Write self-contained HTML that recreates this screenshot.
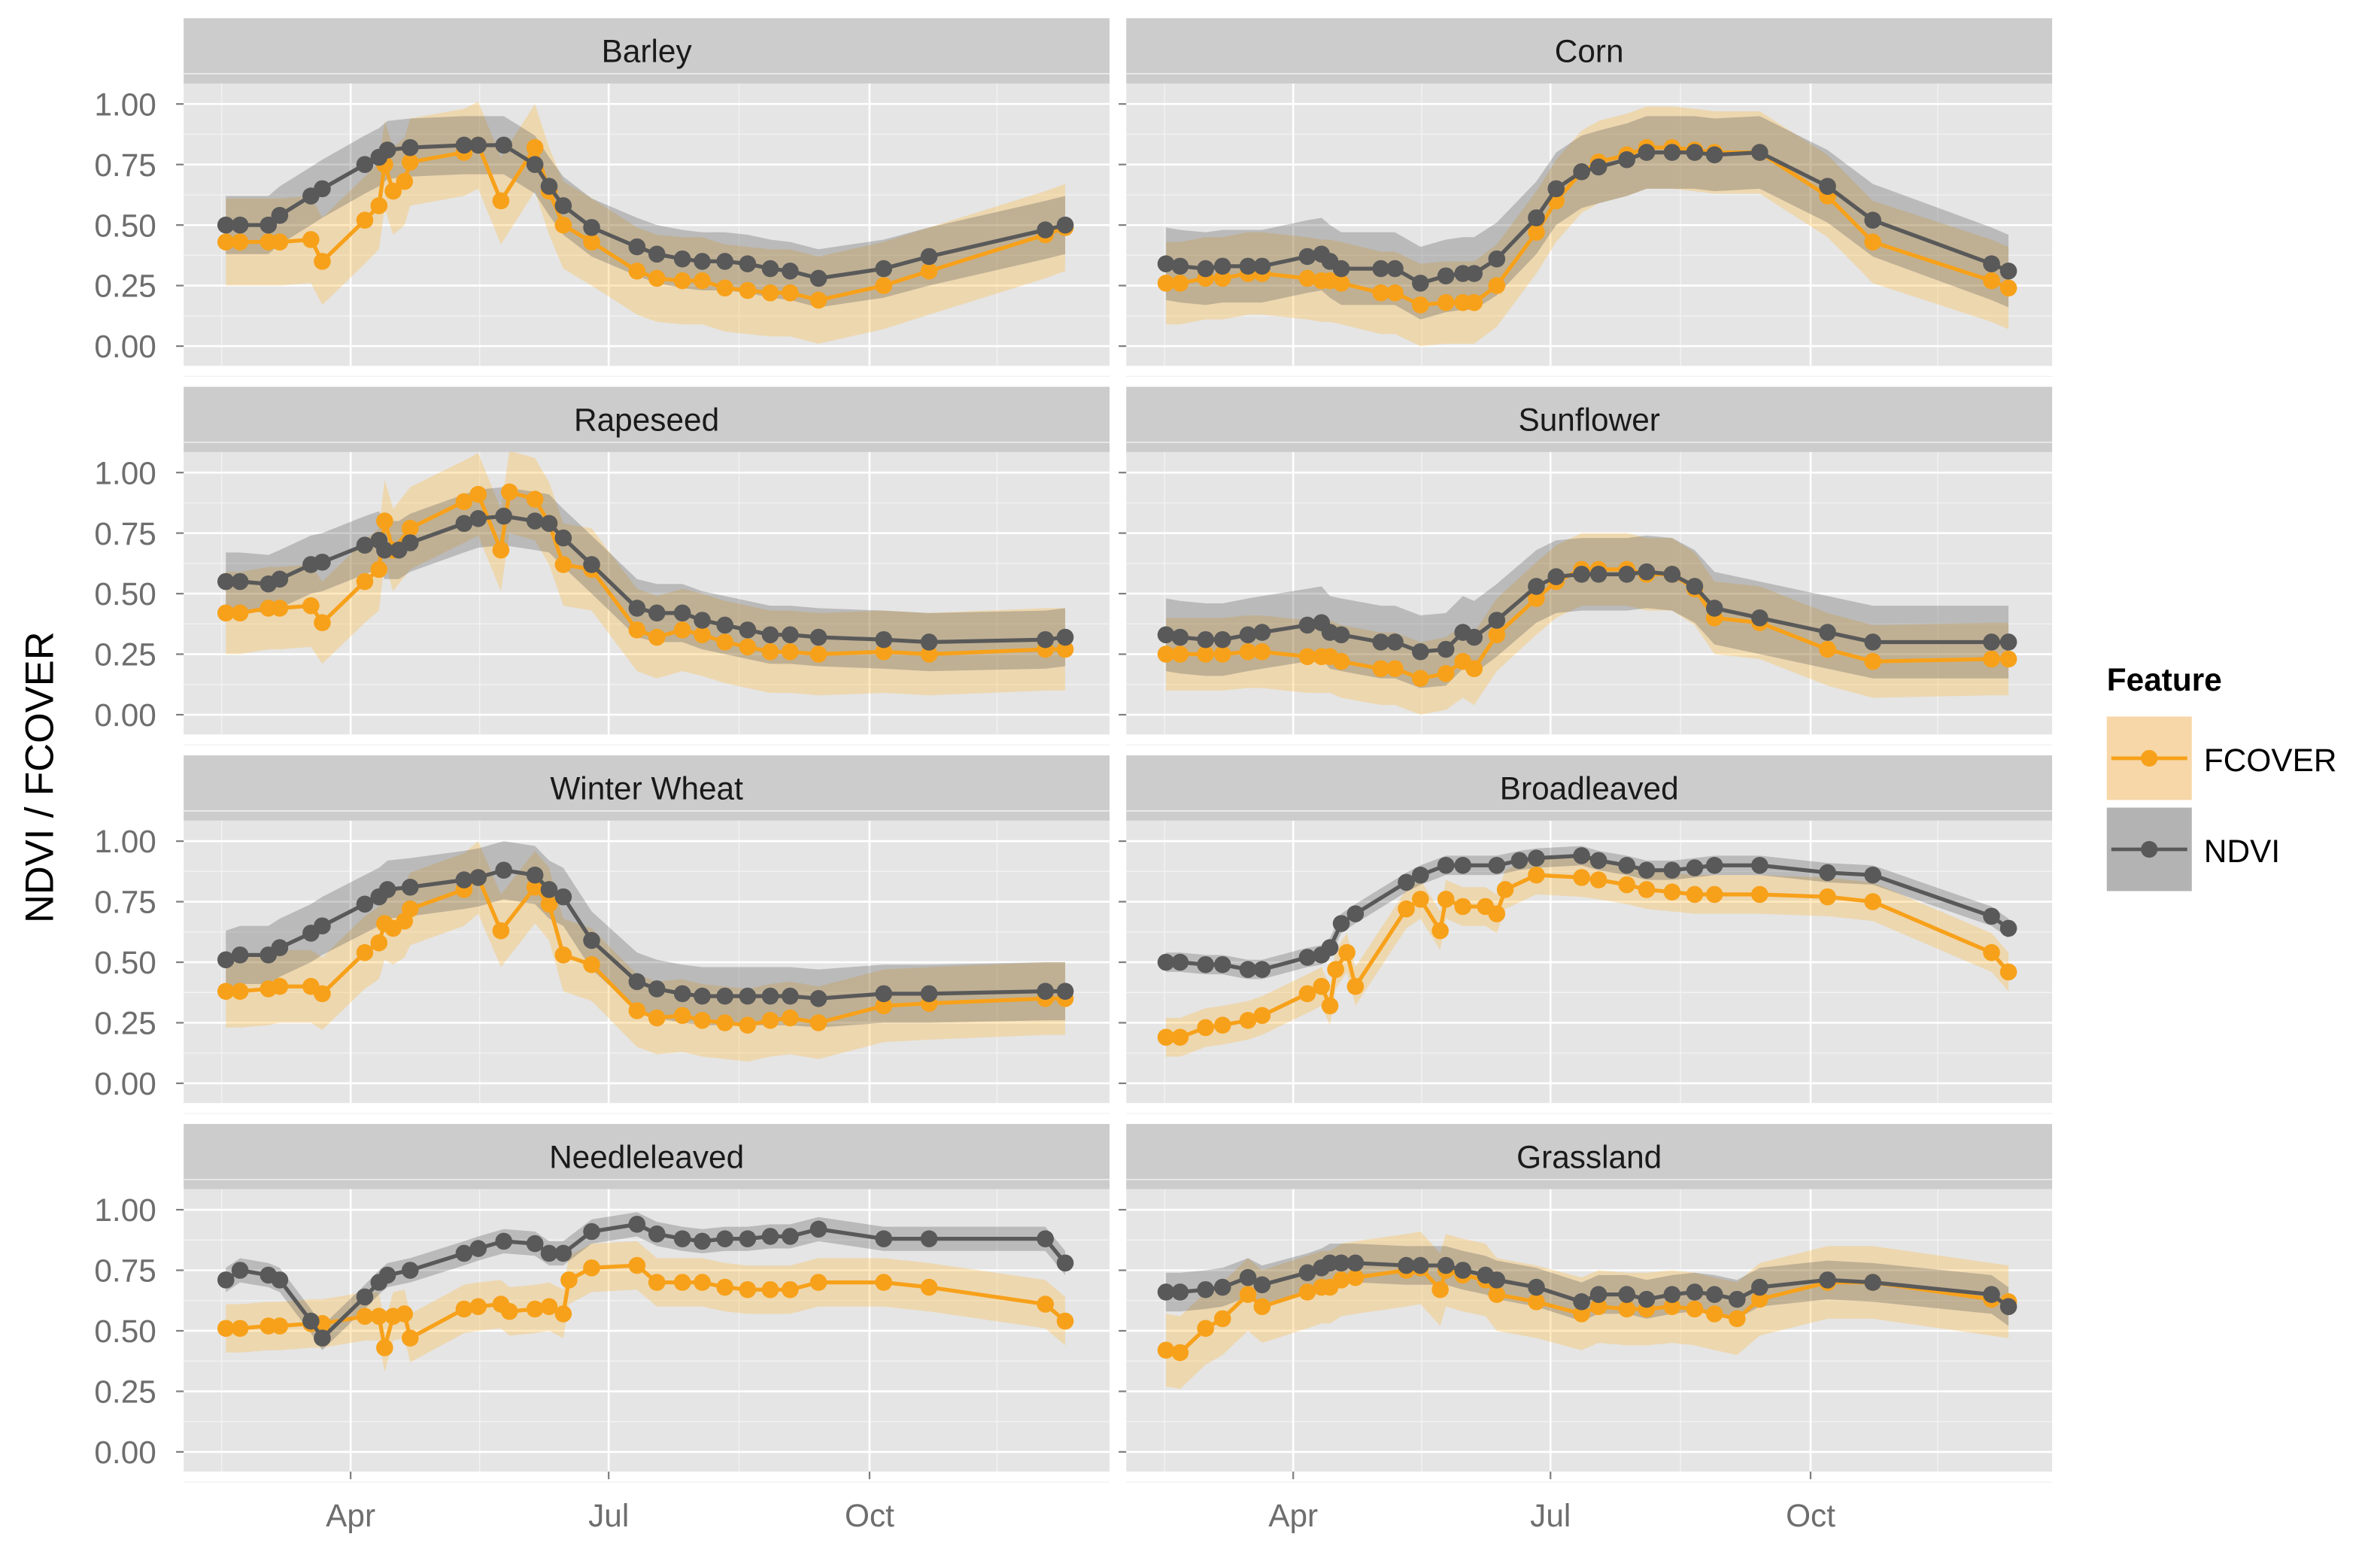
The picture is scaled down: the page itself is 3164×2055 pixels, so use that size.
<!DOCTYPE html>
<html><head><meta charset="utf-8">
<style>
html,body{margin:0;padding:0;background:#fff;}
svg{display:block;font-family:"Liberation Sans",Arial,sans-serif;}
</style></head>
<body>
<svg id="chart" width="3164" height="2055" viewBox="0 0 1568 1018.4" xmlns="http://www.w3.org/2000/svg">
<rect x="0" y="0" width="1568" height="1018.4" fill="#fff"/>
<g id="panels"></g>
<text x="0" y="0" transform="translate(35,512) rotate(-90)" text-anchor="middle" font-size="26" fill="#000">NDVI / FCOVER</text>
<g>
<text x="1388" y="455" font-size="21" font-weight="bold" fill="#000">Feature</text>
<g>
<rect x="1388" y="472" width="56" height="55" fill="#f7d7a8"/>
<line x1="1391" y1="499.5" x2="1441" y2="499.5" stroke="#f7a11a" stroke-width="2.4"/>
<circle cx="1416" cy="499.5" r="5.5" fill="#f7a11a"/>
<text x="1452" y="508" font-size="21" fill="#000">FCOVER</text>
</g>
<g>
<rect x="1388" y="532" width="56" height="55" fill="#b3b3b3"/>
<line x1="1391" y1="559.5" x2="1441" y2="559.5" stroke="#595959" stroke-width="2.4"/>
<circle cx="1416" cy="559.5" r="5.5" fill="#595959"/>
<text x="1452" y="568" font-size="21" fill="#000">NDVI</text>
</g>
</g>
</svg>
<script>
// ---- data (day of year, value) ----
const yTicks = [0, 0.25, 0.5, 0.75, 1.0];
const yTickLabels = ["0.00", "0.25", "0.50", "0.75", "1.00"];
const monthDays = [91, 182, 274];
const monthLabels = ["Apr", "Jul", "Oct"];
const panelTitles = ["Barley","Corn","Rapeseed","Sunflower","Winter Wheat","Broadleaved","Needleleaved","Grassland"];

const barley_ndvi_day = [47,52,62,66,77,81,96,101,104,112,131,136,145,156,161,166,176,192,199,208,215,223,231,239,246,256,279,295,336,343];
const barley_ndvi = [.50,.50,.50,.54,.62,.65,.75,.78,.81,.82,.83,.83,.83,.75,.66,.58,.49,.41,.38,.36,.35,.35,.34,.32,.31,.28,.32,.37,.48,.50];
const barley_fcover_day = [47,52,62,66,77,81,96,101,103,106,110,112,131,136,144,156,161,166,176,192,199,208,215,223,231,239,246,256,279,295,336,343];
const barley_fcover = [.43,.43,.43,.43,.44,.35,.52,.58,.75,.64,.68,.76,.80,.83,.60,.82,.64,.50,.43,.31,.28,.27,.27,.24,.23,.22,.22,.19,.25,.31,.46,.49];

const corn_ndvi_day = [46,51,60,66,75,80,96,101,104,108,122,127,136,145,151,155,163,177,184,193,199,209,216,225,233,240,256,280,296,338,344];
const corn_ndvi = [.34,.33,.32,.33,.33,.33,.37,.38,.35,.32,.32,.32,.26,.29,.30,.30,.36,.53,.65,.72,.74,.77,.80,.80,.80,.79,.80,.66,.52,.34,.31];
const corn_fcover_day = [46,51,60,66,75,80,96,101,104,108,122,127,136,145,151,155,163,177,184,193,199,209,216,225,233,240,256,280,296,338,344];
const corn_fcover = [.26,.26,.28,.28,.30,.30,.28,.27,.27,.26,.22,.22,.17,.18,.18,.18,.25,.47,.60,.72,.76,.79,.82,.82,.81,.80,.80,.62,.43,.27,.24];

const rapeseed_ndvi_day = [47,52,62,66,77,81,96,101,103,108,112,131,136,145,156,161,166,176,192,199,208,215,223,231,239,246,256,279,295,336,343];
const rapeseed_ndvi = [.55,.55,.54,.56,.62,.63,.70,.72,.68,.68,.71,.79,.81,.82,.80,.79,.73,.62,.44,.42,.42,.39,.37,.35,.33,.33,.32,.31,.30,.31,.32];
const rapeseed_fcover_day = [47,52,62,66,77,81,96,101,103,106,112,131,136,144,147,156,161,166,176,192,199,208,215,223,231,239,246,256,279,295,336,343];
const rapeseed_fcover = [.42,.42,.44,.44,.45,.38,.55,.60,.80,.68,.77,.88,.91,.68,.92,.89,.79,.62,.60,.35,.32,.35,.33,.30,.28,.26,.26,.25,.26,.25,.27,.27];

const sunflower_ndvi_day = corn_ndvi_day.slice();
const sunflower_ndvi = [.33,.32,.31,.31,.33,.34,.37,.38,.34,.33,.30,.30,.26,.27,.34,.32,.39,.53,.57,.58,.58,.58,.59,.58,.53,.44,.40,.34,.30,.30,.30];
const sunflower_fcover_day = corn_fcover_day.slice();
const sunflower_fcover = [.25,.25,.25,.25,.26,.26,.24,.24,.24,.22,.19,.19,.15,.17,.22,.19,.33,.48,.55,.60,.60,.60,.58,.58,.52,.40,.38,.27,.22,.23,.23];

const wheat_ndvi_day = barley_ndvi_day.slice();
const wheat_ndvi = [.51,.53,.53,.56,.62,.65,.74,.77,.80,.81,.84,.85,.88,.86,.80,.77,.59,.42,.39,.37,.36,.36,.36,.36,.36,.35,.37,.37,.38,.38];
const wheat_fcover_day = barley_fcover_day.slice();
const wheat_fcover = [.38,.38,.39,.40,.40,.37,.54,.58,.66,.64,.67,.72,.80,.85,.63,.81,.74,.53,.49,.30,.27,.28,.26,.25,.24,.26,.27,.25,.32,.33,.35,.35];

const broad_ndvi_day = [46,51,60,66,75,80,96,101,104,108,113,131,136,145,151,163,171,177,193,199,209,216,225,233,240,256,280,296,338,344];
const broad_ndvi = [.50,.50,.49,.49,.47,.47,.52,.53,.56,.66,.70,.83,.86,.90,.90,.90,.92,.93,.94,.92,.90,.88,.88,.89,.90,.90,.87,.86,.69,.64];
const broad_fcover_day = [46,51,60,66,75,80,96,101,104,106,110,113,131,136,143,145,151,159,163,166,177,193,199,209,216,225,233,240,256,280,296,338,344];
const broad_fcover = [.19,.19,.23,.24,.26,.28,.37,.40,.32,.47,.54,.40,.72,.76,.63,.76,.73,.73,.70,.80,.86,.85,.84,.82,.80,.79,.78,.78,.78,.77,.75,.54,.46];

const needle_ndvi_day = barley_ndvi_day.slice();
const needle_ndvi = [.71,.75,.73,.71,.54,.47,.64,.70,.73,.75,.82,.84,.87,.86,.82,.82,.91,.94,.90,.88,.87,.88,.88,.89,.89,.92,.88,.88,.88,.78];
const needle_fcover_day = [47,52,62,66,77,81,96,101,103,106,110,112,131,136,144,147,156,161,166,168,176,192,199,208,215,223,231,239,246,256,279,295,336,343];
const needle_fcover = [.51,.51,.52,.52,.53,.53,.56,.56,.43,.56,.57,.47,.59,.60,.61,.58,.59,.60,.57,.71,.76,.77,.70,.70,.70,.68,.67,.67,.67,.70,.70,.68,.61,.54];

const grass_ndvi_day = [46,51,60,66,75,80,96,101,104,108,113,131,136,145,151,159,163,177,193,199,209,216,225,233,240,248,256,280,296,338,344];
const grass_ndvi = [.66,.66,.67,.68,.72,.69,.74,.76,.78,.78,.78,.77,.77,.77,.75,.73,.71,.68,.62,.65,.65,.63,.65,.66,.65,.63,.68,.71,.70,.65,.60];
const grass_fcover_day = [46,51,60,66,75,80,96,101,104,108,113,131,136,143,145,151,159,163,177,193,199,209,216,225,233,240,248,256,280,296,338,344];
const grass_fcover = [.42,.41,.51,.55,.65,.60,.66,.68,.68,.71,.72,.75,.76,.67,.75,.73,.71,.65,.62,.57,.60,.59,.59,.60,.59,.57,.55,.63,.70,.70,.63,.62];

// ribbon half-widths
const fcoverSpread = [0.18, 0.17, 0.17, 0.15, 0.15, 0.08, 0.10, 0.15];
const ndviSpread = [0.12, 0.15, 0.12, 0.15, 0.12, 0.04, 0.05, 0.08];

const series = [
  [barley_ndvi_day, barley_ndvi, barley_fcover_day, barley_fcover],
  [corn_ndvi_day, corn_ndvi, corn_fcover_day, corn_fcover],
  [rapeseed_ndvi_day, rapeseed_ndvi, rapeseed_fcover_day, rapeseed_fcover],
  [sunflower_ndvi_day, sunflower_ndvi, sunflower_fcover_day, sunflower_fcover],
  [wheat_ndvi_day, wheat_ndvi, wheat_fcover_day, wheat_fcover],
  [broad_ndvi_day, broad_ndvi, broad_fcover_day, broad_fcover],
  [needle_ndvi_day, needle_ndvi, needle_fcover_day, needle_fcover],
  [grass_ndvi_day, grass_ndvi, grass_fcover_day, grass_fcover]
];

// ---- layout ----
const NS = "http://www.w3.org/2000/svg";
const root = document.getElementById('panels');
const colX = [121, 742];
const panelW = 610;
const rowStep = 242.8;
function mk(tag, attrs, parent){ const e=document.createElementNS(NS,tag); for(const k in attrs) e.setAttribute(k,attrs[k]); parent.appendChild(e); return e; }
function xScale(col, d){ return (col===0?231:852) + (d-91)*(col===0?170:169.5)/91; }
function yScale(row, v){ return 228 + row*rowStep - v*159.5; }

panelTitles.forEach((title, i) => {
  const row = Math.floor(i/2), col = i%2;
  const x0 = colX[col];
  const top = 55 + row*rowStep, bot = 241 + row*rowStep;
  const g = mk('g', {}, root);
  
  
  const strip = mk('rect', {x:x0, y:top-43, width:panelW, height:43, fill:'#cccccc'}, g);
  
  
  const st = mk('text', {x:x0+panelW/2, y:top-14, 'text-anchor':'middle', 'font-size':'21', fill:'#1a1a1a'}, g);
  
  
  st.textContent = title;
  const bg = mk('rect', {x:x0, y:top, width:panelW, height:bot-top, fill:'#e5e5e5'}, g);
  
  
  for (let k=0;k<yTicks.length;k++){
    const y=yScale(row,yTicks[k]-0.125);
    mk('line',{x1:x0,x2:x0+panelW,y1:y,y2:y,stroke:'#f2f2f2','stroke-width':0.7},g);
  }
  mk('line',{x1:x0,x2:x0+panelW,y1:yScale(row,1.125),y2:yScale(row,1.125),stroke:'#f2f2f2','stroke-width':0.7},g);
  const minorDays=[45.5,136.5,228,319];
  minorDays.forEach(d=>{const x=xScale(col,d); mk('line',{x1:x,x2:x,y1:top,y2:bot,stroke:'#f2f2f2','stroke-width':0.7},g);});
  yTicks.forEach((v,k)=>{
    const y=yScale(row,v);
    const gl = mk('line',{x1:x0,x2:x0+panelW,y1:y,y2:y,stroke:'#fff','stroke-width':1.3},g);
    
    
    mk('line',{x1:x0-5,x2:x0,y1:y,y2:y,stroke:'#7f7f7f','stroke-width':1.1},g);
    if(col===0){
      const t = mk('text',{x:x0-18,y:y+7.5,'text-anchor':'end','font-size':'21',fill:'#6e6e6e'},g);
      
      
      t.textContent = yTickLabels[k];
    }
  });
  monthDays.forEach((d,k)=>{
    const x=xScale(col,d);
    mk('line',{x1:x,x2:x,y1:top,y2:bot,stroke:'#fff','stroke-width':1.3},g);
    if(row===3){
      mk('line',{x1:x,x2:x,y1:bot,y2:bot+5,stroke:'#7f7f7f','stroke-width':1.1},g);
      const t = mk('text',{x:x,y:bot+36,'text-anchor':'middle','font-size':'21',fill:'#6e6e6e'},g);
      
      
      t.textContent = monthLabels[k];
    }
  });
  const clipId='clip'+i;
  const cp = mk('clipPath',{id:clipId},g);
  mk('rect',{x:x0,y:top,width:panelW,height:bot-top},cp);
  const data = mk('g',{'clip-path':'url(#'+clipId+')'},g);
  const [nd, nv, fd, fv] = series[i];
  function ribbon(days, vals, sp, fill, op, name){
    let up = days.map((d,j)=>xScale(col,d)+','+yScale(row,vals[j]+sp));
    let lo = days.map((d,j)=>xScale(col,d)+','+yScale(row,vals[j]-sp)).reverse();
    const p = mk('polygon',{points:up.concat(lo).join(' '),fill:fill,'fill-opacity':op},data);
    
    
  }
  function lineDots(days, vals, color, name){
    const pl = mk('polyline',{points:days.map((d,j)=>xScale(col,d)+','+yScale(row,vals[j])).join(' '),fill:'none',stroke:color,'stroke-width':2.6,'stroke-linejoin':'round'},data);
    
    
    days.forEach((d,j)=>{
      const c = mk('circle',{cx:xScale(col,d),cy:yScale(row,vals[j]),r:5.6,fill:color},data);
      
      
    });
  }
  ribbon(fd, fv, fcoverSpread[i], '#ffb733', 0.3, 'fcover-ribbon');
  ribbon(nd, nv, ndviSpread[i], '#555555', 0.3, 'ndvi-ribbon');
  lineDots(fd, fv, '#f7a11a', 'fcover');
  lineDots(nd, nv, '#595959', 'ndvi');
});
</script>
</body></html>
